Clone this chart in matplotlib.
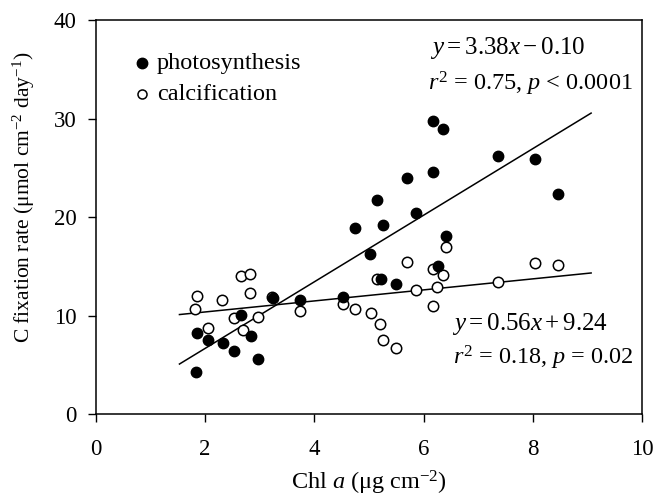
import numpy as np
import matplotlib
matplotlib.use("Agg")
import matplotlib.pyplot as plt

plt.rcParams['font.family'] = 'Liberation Serif'
plt.rcParams['mathtext.fontset'] = 'custom'
plt.rcParams['mathtext.rm'] = 'Liberation Serif'
plt.rcParams['mathtext.it'] = 'Liberation Serif:italic'

# photosynthesis (filled)
photo_x = [1.83, 1.86, 2.06, 2.32, 2.53, 2.66, 2.84, 2.97, 3.24, 3.74, 4.53,
           4.74, 5.02, 5.14, 5.23, 5.26, 5.49, 5.69, 5.87, 6.17, 6.18, 6.27,
           6.36, 6.42, 7.37, 8.04, 8.47]
photo_y = [4.24, 8.2, 7.5, 7.25, 6.44, 10.04, 7.93, 5.6, 11.77, 11.6, 11.87,
           18.9, 16.25, 21.7, 13.7, 19.2, 13.2, 23.97, 20.4, 29.8, 24.55, 14.98,
           28.96, 18.1, 26.25, 25.9, 22.35]

# calcification (open)
calc_x = [1.82, 1.86, 2.06, 2.31, 2.53, 2.65, 2.69, 2.82, 2.82, 2.97, 3.23,
          3.74, 4.53, 4.74, 5.03, 5.14, 5.21, 5.25, 5.49, 5.70, 5.87, 6.17,
          6.17, 6.25, 6.36, 6.42, 7.37, 8.04, 8.47]
calc_y = [10.65, 12.0, 8.78, 11.6, 9.73, 14.04, 8.54, 14.2, 12.3, 9.84, 11.9,
          10.5, 11.2, 10.7, 10.24, 13.7, 9.15, 7.5, 6.7, 15.43, 12.55, 14.7,
          11.0, 12.9, 14.14, 17.0, 13.36, 15.33, 15.1]

# regression lines (slope, intercept) and fitted x-range
photo_fit = (3.38, -0.10)
calc_fit = (0.56, 9.24)
fit_range = [1.53, 9.07]

fig = plt.figure(figsize=(6.57, 5.03), dpi=100)
ax = fig.add_axes([0.146, 0.177, 0.831, 0.783])

xl = np.array(fit_range)
ax.plot(xl, photo_fit[0]*xl + photo_fit[1], color='black', lw=1.1, zorder=1)
ax.plot(xl, calc_fit[0]*xl + calc_fit[1], color='black', lw=1.1, zorder=1)

ax.plot(photo_x, photo_y, 'o', color='black', ms=7.5, zorder=3)
ax.plot(calc_x, calc_y, 'o', mfc='white', mec='black', mew=1.1, ms=7.5, zorder=2)

ax.set_xlim(0, 10)
ax.set_ylim(0, 40)
ax.set_xticks([0, 2, 4, 6, 8, 10])
ax.set_yticks([0, 10, 20, 30, 40])
ax.tick_params(direction='out', length=6, width=1, labelsize=16.5,
               top=False, right=False)
ax.tick_params(axis='x', pad=12)
ax.tick_params(axis='y', pad=8)
for s in ax.spines.values():
    s.set_linewidth(1.1)

ax.set_xlabel('Chl $\\mathit{a}$ ($\\mathrm{\\mu}$g cm$^{-2}$)', fontsize=17.5, labelpad=6)
ax.set_ylabel('C fixation rate ($\\mathrm{\\mu}$mol cm$^{-2}$ day$^{-1}$)', fontsize=15.5)
ax.yaxis.set_label_coords(-0.108, 0.55)

# legend drawn as markers + text
ax.plot([0.84], [35.6], 'o', color='black', ms=7.5)
ax.plot([0.84], [32.45], 'o', mfc='white', mec='black', mew=1.1, ms=6.5)
ax.text(1.12, 35.6, 'photosynthesis', fontsize=17.5, va='center')
ax.text(1.12, 32.45, 'calcification', fontsize=17.5, va='center')

ax.text(6.12, 37.2, '$y = 3.38x - 0.10$', fontsize=18, va='center')
ax.text(6.08, 33.5, '$r^2$ = 0.75, $p$ < 0.0001', fontsize=17.5, va='center')
ax.text(6.52, 9.15, '$y = 0.56x + 9.24$', fontsize=18, va='center')
ax.text(6.54, 5.7, '$r^2$ = 0.18, $p$ = 0.02', fontsize=17.5, va='center')

fig.savefig('out.png', dpi=100)
